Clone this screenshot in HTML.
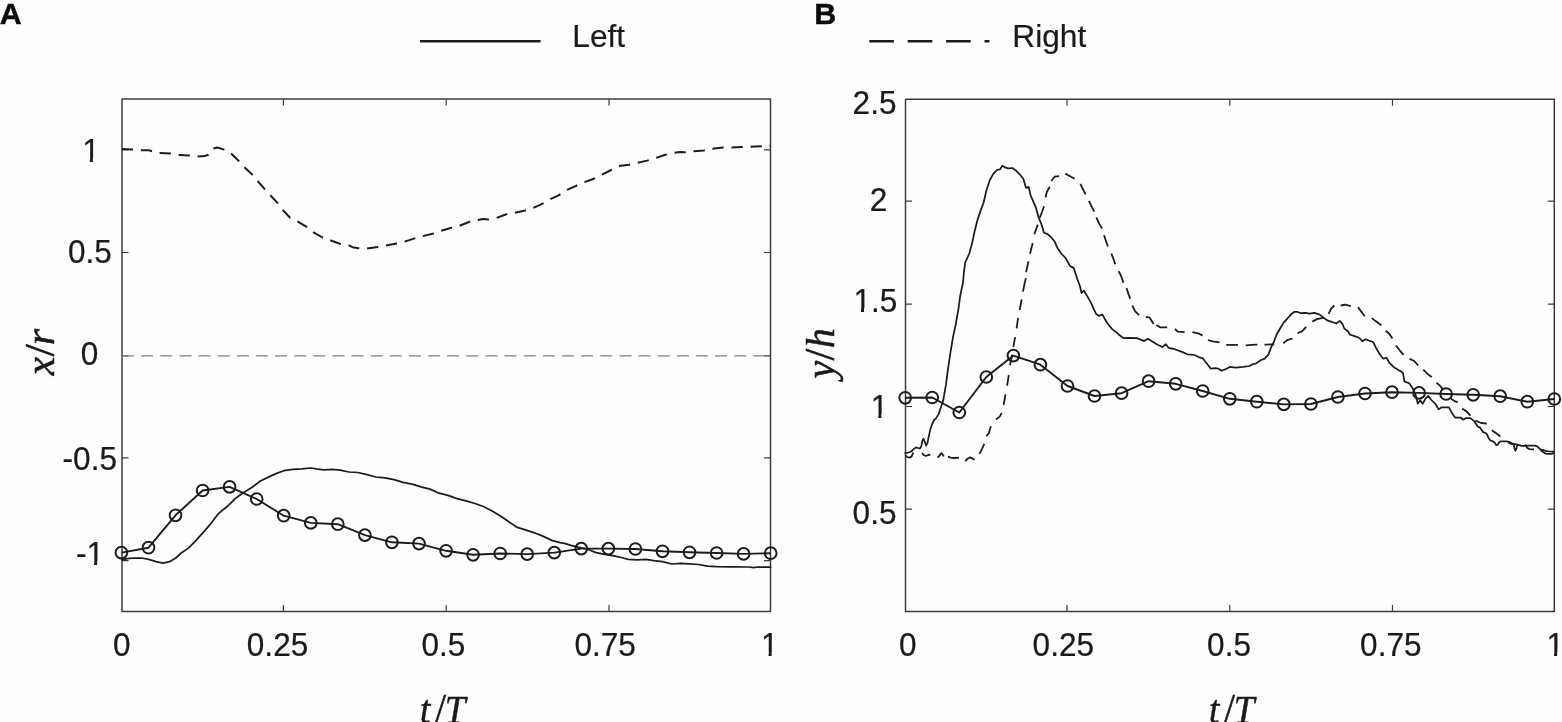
<!DOCTYPE html>
<html lang="en"><head><meta charset="utf-8"><title>Figure: Left / Right trajectories</title>
<style>
html,body{margin:0;padding:0;background:#fefefe;}
body{width:1562px;height:722px;overflow:hidden;}
svg{display:block;}
.tk{font-family:"Liberation Sans",sans-serif;font-size:33.6px;fill:#1a1a1a;stroke:#1a1a1a;stroke-width:0.25px;}
.lg{font-family:"Liberation Sans",sans-serif;font-size:31.7px;fill:#1a1a1a;stroke:#1a1a1a;stroke-width:0.2px;}
.pn{font-family:"Liberation Sans",sans-serif;font-size:30.4px;font-weight:bold;fill:#0a0a0a;stroke:#0a0a0a;stroke-width:0.4px;}
.ax{font-family:"Liberation Serif",serif;font-style:italic;font-size:40px;fill:#1a1a1a;stroke:#1a1a1a;stroke-width:0.5px;}
.ax .sl2{font-style:normal;font-size:42.5px;}
.fr{fill:none;stroke:#3c3c3c;stroke-width:1.5;stroke-linejoin:round;}
.ti{fill:none;stroke:#3c3c3c;stroke-width:1.2;}
.sl{fill:none;stroke:#1c1c1c;stroke-width:1.75;stroke-linejoin:round;stroke-linecap:round;}
.ml{fill:none;stroke:#1c1c1c;stroke-width:1.9;stroke-linejoin:round;}
.mk{fill:none;stroke:#1c1c1c;stroke-width:2.0;}
.ds{fill:none;stroke:#1c1c1c;stroke-width:2.0;stroke-linejoin:round;stroke-dasharray:11.3 7.8;}
.dx{fill:none;stroke:#1c1c1c;stroke-width:1.8;stroke-linejoin:round;}
.zr{fill:none;stroke:#808080;stroke-width:1.3;stroke-dasharray:12 7.13;}
</style></head><body>
<svg width="1562" height="722" viewBox="0 0 1562 722">
<rect x="0" y="0" width="1562" height="722" fill="#fefefe"/>
<text class="pn" x="-0.3" y="24.2">A</text>
<text class="pn" x="814.2" y="24.1">B</text>
<line x1="420" y1="41.2" x2="540.6" y2="41.2" stroke="#1c1c1c" stroke-width="2.6"/>
<text class="lg" x="572.3" y="47.0">Left</text>
<line x1="869.3" y1="41.2" x2="989.5" y2="41.2" stroke="#1c1c1c" stroke-width="2.6" stroke-dasharray="24.6 13.8"/>
<text class="lg" x="1012.3" y="47.0">Right</text>
<rect class="fr" x="122.0" y="99.0" width="648.5" height="512.4"/>
<path class="ti" d="M283.4,611.4 v-6.5 M283.4,99.0 v6.5 M446.2,611.4 v-6.5 M446.2,99.0 v6.5 M609.0,611.4 v-6.5 M609.0,99.0 v6.5 M122.0,149.8 h6.5 M770.5,149.8 h-6.5 M122.0,252.5 h6.5 M770.5,252.5 h-6.5 M122.0,355.8 h6.5 M770.5,355.8 h-6.5 M122.0,457.9 h6.5 M770.5,457.9 h-6.5 M122.0,560.6 h6.5 M770.5,560.6 h-6.5"/>
<line class="zr" x1="122.0" y1="355.8" x2="770.5" y2="355.8"/>
<path class="ds" d="M121.8,148.9 L133.0,149.4 L140.7,150.3 L148.8,150.3 L158.7,153.0 L170.4,153.6 L178.0,155.0 L189.3,155.4 L197.4,156.5 L204.6,156.1 L208.2,154.8 L213.6,148.5 L217.2,147.5 L223.5,149.4 L230.7,153.0 L238.8,161.0 L244.2,166.9 L253.2,175.4 L258.6,182.2 L264.9,189.4 L270.3,195.2 L277.5,202.9 L282.9,210.1 L290.1,217.7 L297.3,221.3 L306.3,226.7 L313.5,232.3 L322.5,237.5 L329.7,240.4 L330.0,240.2 L339.9,243.8 L348.0,244.9 L352.5,247.2 L358.8,248.3 L366.9,248.5 L377.7,247.0 L385.8,245.6 L396.6,243.4 L404.7,241.6 L414.6,238.4 L422.7,236.2 L433.5,233.5 L440.7,230.8 L451.5,227.8 L459.6,225.8 L469.5,221.8 L477.6,220.0 L483.0,219.1 L488.4,219.5 L496.5,217.9 L506.4,214.3 L514.5,212.8 L525.3,210.5 L532.5,208.3 L540.6,204.7 L550.0,199.3 L558.1,195.7 L566.2,190.3 L576.1,185.8 L584.2,182.2 L593.2,179.0 L601.3,175.0 L611.2,170.0 L618.4,166.0 L629.2,164.7 L637.3,162.9 L647.2,160.6 L656.2,157.9 L665.2,154.7 L674.2,152.9 L679.6,152.0 L685.0,152.3 L693.1,151.2 L703.9,150.5 L712.0,148.9 L722.8,147.6 L730.9,147.5 L741.7,147.1 L749.8,146.7 L760.6,146.2 L770.0,145.8"/>
<path class="sl" d="M121.8,559.8 L127.2,558.6 L134.4,558.0 L141.6,558.0 L148.8,559.3 L156.0,561.6 L163.2,563.1 L170.4,561.3 L175.8,558.0 L181.2,553.0 L188.4,548.1 L195.6,540.9 L202.8,532.8 L210.0,524.7 L218.1,513.9 L228.0,505.8 L235.2,498.6 L242.4,493.2 L251.4,487.8 L260.4,481.0 L269.4,476.6 L276.6,473.4 L283.8,470.7 L292.8,469.4 L301.8,468.9 L310.8,468.0 L316.2,468.9 L323.4,469.8 L332.4,469.4 L340.0,470.2 L349.0,472.0 L358.0,472.5 L367.0,474.7 L376.0,477.0 L385.0,477.9 L394.0,479.7 L403.0,482.4 L412.0,484.2 L421.0,486.9 L430.0,489.1 L439.0,493.2 L448.0,495.4 L457.0,498.6 L466.0,500.9 L475.0,503.5 L484.0,506.7 L493.0,511.6 L502.0,517.0 L511.0,523.3 L517.3,527.4 L525.4,529.8 L534.4,532.8 L543.4,536.4 L552.4,540.6 L560.0,542.7 L565.4,543.6 L570.8,545.4 L578.0,547.2 L587.0,549.0 L596.0,552.6 L605.0,554.4 L614.0,555.9 L621.2,557.5 L628.4,559.3 L637.4,559.8 L646.4,559.3 L653.6,560.7 L662.6,561.6 L671.6,564.0 L680.6,563.4 L689.6,563.8 L698.6,564.5 L707.6,566.1 L716.6,566.7 L731.0,566.8 L749.0,567.0 L753.5,567.6 L758.0,567.0 L770.6,567.0"/>
<path class="ml" d="M121.4,552.6 L148.5,547.7 L175.5,515.3 L202.6,490.5 L229.6,486.9 L256.7,499.0 L283.7,515.7 L310.8,522.9 L337.8,524.2 L364.9,535.1 L391.9,542.3 L419.0,543.6 L446.1,550.8 L473.1,554.8 L500.2,553.5 L527.2,554.1 L554.3,552.6 L581.3,548.6 L608.4,548.6 L635.4,549.0 L662.5,551.3 L689.5,552.3 L716.6,553.0 L743.6,553.9 L770.7,553.2"/>
<circle class="mk" cx="121.4" cy="552.6" r="5.85"/>
<circle class="mk" cx="148.5" cy="547.7" r="5.85"/>
<circle class="mk" cx="175.5" cy="515.3" r="5.85"/>
<circle class="mk" cx="202.6" cy="490.5" r="5.85"/>
<circle class="mk" cx="229.6" cy="486.9" r="5.85"/>
<circle class="mk" cx="256.7" cy="499.0" r="5.85"/>
<circle class="mk" cx="283.7" cy="515.7" r="5.85"/>
<circle class="mk" cx="310.8" cy="522.9" r="5.85"/>
<circle class="mk" cx="337.8" cy="524.2" r="5.85"/>
<circle class="mk" cx="364.9" cy="535.1" r="5.85"/>
<circle class="mk" cx="391.9" cy="542.3" r="5.85"/>
<circle class="mk" cx="419.0" cy="543.6" r="5.85"/>
<circle class="mk" cx="446.1" cy="550.8" r="5.85"/>
<circle class="mk" cx="473.1" cy="554.8" r="5.85"/>
<circle class="mk" cx="500.2" cy="553.5" r="5.85"/>
<circle class="mk" cx="527.2" cy="554.1" r="5.85"/>
<circle class="mk" cx="554.3" cy="552.6" r="5.85"/>
<circle class="mk" cx="581.3" cy="548.6" r="5.85"/>
<circle class="mk" cx="608.4" cy="548.6" r="5.85"/>
<circle class="mk" cx="635.4" cy="549.0" r="5.85"/>
<circle class="mk" cx="662.5" cy="551.3" r="5.85"/>
<circle class="mk" cx="689.5" cy="552.3" r="5.85"/>
<circle class="mk" cx="716.6" cy="553.0" r="5.85"/>
<circle class="mk" cx="743.6" cy="553.9" r="5.85"/>
<circle class="mk" cx="770.7" cy="553.2" r="5.85"/>
<text class="tk" transform="translate(82.2,162.0) scale(0.94,1)">1</text>
<path fill="#fefefe" d="M83.40,158.20h6.4v5h-6.4z M92.86,158.20h6.4v5h-6.4z"/>
<text class="tk" transform="translate(68.0,262.8) scale(0.94,1)">0.5</text>
<text class="tk" transform="translate(80.8,365.2) scale(0.94,1)">0</text>
<text class="tk" transform="translate(62.6,469.8) scale(0.94,1)">-0.5</text>
<text class="tk" transform="translate(76.0,565.0) scale(0.94,1)">-1</text>
<path fill="#fefefe" d="M87.72,561.20h6.4v5h-6.4z M97.18,561.20h6.4v5h-6.4z"/>
<text class="tk" transform="translate(113.0,656.1) scale(0.94,1)">0</text>
<text class="tk" transform="translate(246.8,656.1) scale(0.94,1)">0.25</text>
<text class="tk" transform="translate(421.4,656.1) scale(0.94,1)">0.5</text>
<text class="tk" transform="translate(574.4,656.1) scale(0.94,1)">0.75</text>
<text class="tk" transform="translate(761.0,656.1) scale(0.94,1)">1</text>
<path fill="#fefefe" d="M762.20,652.30h6.4v5h-6.4z M771.66,652.30h6.4v5h-6.4z"/>
<text class="ax" transform="translate(419.9,723.2) scale(0.93,1)"><tspan x="0">t</tspan><tspan class="sl2" x="16.2">/</tspan><tspan x="26.8">T</tspan></text>
<text class="ax" transform="translate(53.8,375.5) rotate(-90) scale(1.05,1)"><tspan x="0">x</tspan><tspan class="sl2" x="18.0">/</tspan><tspan x="28.7">r</tspan></text>
<rect class="fr" x="905.5" y="99.2" width="648.8" height="512.2"/>
<path class="ti" d="M1067.0,611.4 v-6.5 M1067.0,99.2 v6.5 M1229.8,611.4 v-6.5 M1229.8,99.2 v6.5 M1392.5,611.4 v-6.5 M1392.5,99.2 v6.5 M905.5,201.1 h6.5 M1554.3,201.1 h-6.5 M905.5,304.1 h6.5 M1554.3,304.1 h-6.5 M905.5,406.5 h6.5 M1554.3,406.5 h-6.5 M905.5,509.2 h6.5 M1554.3,509.2 h-6.5"/>
<path class="dx" d="M905.3,455.0 L907.1,457.0 L909.2,457.7 L911.6,456.4 L913.3,452.5 M922.0,453.2 L923.7,455.0 L925.8,456.0 L928.2,455.0 L930.3,454.6 M937.6,457.7 L939.6,455.3 L941.4,453.2 L942.7,454.6 L943.8,456.4 M947.9,456.7 L950.7,457.7 L953.5,458.0 L959.0,457.7 M965.3,461.2 L967.3,458.8 L970.1,457.4 L972.2,458.4 L974.6,459.8 M979.4,453.9 L981.9,449.1 L984.3,443.9 M986.4,436.3 L988.8,433.2 L990.9,426.2 M995.9,419.5 L999.7,416.6 L1001.7,412.8 M1003.6,405.0 L1005.5,394.3 M1007.1,385.6 L1008.8,375.0 M1010.0,365.3 L1011.4,358.5 L1012.3,354.6 M1013.3,346.9 L1015.2,337.2 M1016.6,328.4 L1018.1,317.8 M1019.7,310.0 L1021.6,299.4 M1023.0,291.6 L1024.5,283.9 L1025.9,278.1 M1026.1,272.1 L1028.4,261.4 M1030.0,253.7 L1032.7,243.0 M1034.3,234.3 L1037.8,224.6 M1039.7,217.8 L1042.0,212.0 L1044.0,206.2 M1045.5,197.5 L1046.9,191.7 L1049.8,186.8 M1051.3,181.0 L1054.6,176.7 L1059.1,176.2 M1065.3,173.6 L1070.1,176.2 L1074.6,178.7 M1080.4,183.9 L1082.7,188.8 L1085.6,194.2 M1088.9,200.8 L1092.4,208.1 L1094.3,211.6 M1096.3,217.4 L1099.2,223.6 L1102.1,228.5 M1104.0,235.3 L1106.0,241.1 L1107.9,246.5 M1111.4,253.7 L1113.7,259.5 L1115.3,264.3 M1118.6,271.1 L1121.1,276.0 L1123.4,282.8 M1126.5,288.1 L1128.4,293.9 L1130.3,298.8 M1132.3,305.5 L1135.2,311.4 L1139.1,315.2 M1145.9,316.8 L1149.7,317.6 L1151.7,321.0 L1153.6,324.0 M1156.5,324.9 L1160.4,327.4 L1167.2,327.4 M1174.9,328.8 L1177.8,331.7 L1184.6,332.1 M1192.4,332.1 L1198.2,333.3 L1202.6,335.6 M1207.9,340.0 L1212.7,341.4 L1219.5,342.4 M1226.3,344.9 L1237.9,344.9 M1245.7,345.3 L1251.5,344.9 L1257.3,344.7 M1264.5,344.7 L1274.2,344.3 M1283.3,343.3 L1287.8,339.8 L1292.6,338.5 M1297.5,333.3 L1302.3,331.1 L1306.2,326.9 M1312.4,321.6 L1316.9,319.1 L1323.3,317.8 M1328.5,313.9 L1331.4,308.4 L1334.3,305.5 M1340.7,305.5 L1345.0,304.6 L1350.8,306.1 M1358.1,306.9 L1361.4,311.9 L1364.7,316.2 M1371.7,318.1 L1376.9,322.0 L1381.4,325.3 M1385.7,330.7 L1389.5,334.0 L1392.4,338.5 M1395.8,345.5 L1399.7,350.3 L1403.6,354.8 M1409.4,358.7 L1414.2,361.0 L1418.1,365.3 M1423.3,369.7 L1427.8,374.2 L1431.7,376.9 M1436.5,382.7 L1440.4,386.2 L1443.3,390.1 M1451.0,398.8 L1454.9,401.3 L1457.8,402.1 M1462.1,408.5 L1466.6,411.4 L1470.4,415.7 M1475.3,420.7 L1481.1,423.0 L1486.9,423.6 M1491.8,430.2 L1496.3,433.2 L1500.4,436.6 M1508.4,442.9 L1511.2,443.9 L1517.4,444.6 M1525.4,444.6 L1527.1,447.7 L1529.2,449.1 L1534.0,449.4 M1540.9,450.5 L1543.7,452.5 L1546.5,453.9 L1552.0,453.9 L1554.1,452.5"/>
<path class="sl" d="M905.3,453.1 L908.5,452.5 L911.2,451.5 L913.7,449.1 L916.1,447.4 L917.8,448.0 L919.9,448.5 L921.3,446.3 L922.3,440.8 L923.4,438.6 L924.7,441.5 L926.1,445.5 L927.5,442.9 L928.9,435.9 L930.6,428.3 L932.4,423.5 L934.1,420.0 L936.0,418.4 L938.7,413.9 L941.4,405.8 L943.2,400.4 L945.9,385.2 L947.7,370.8 L950.4,352.8 L953.1,336.6 L955.8,324.0 L958.5,308.7 L960.3,295.2 L963.0,282.6 L963.9,272.4 L965.2,262.5 L969.3,253.5 L972.0,243.6 L974.7,231.0 L977.4,220.2 L980.1,212.1 L983.7,202.2 L986.4,190.5 L990.0,179.7 L993.6,173.4 L997.2,169.8 L999.9,169.4 L1002.3,165.8 L1004.4,167.1 L1008.0,168.4 L1012.5,168.0 L1016.1,170.7 L1019.7,174.3 L1023.3,178.8 L1026.0,187.8 L1028.7,186.9 L1030.5,195.0 L1033.2,201.3 L1035.9,207.6 L1038.6,217.5 L1041.3,223.8 L1044.0,232.8 L1047.6,234.1 L1051.2,237.3 L1054.8,241.8 L1057.5,248.1 L1061.1,253.5 L1065.6,258.0 L1070.1,266.1 L1073.7,267.9 L1077.3,279.0 L1080.0,286.2 L1081.5,293.0 L1084.0,290.7 L1087.2,296.1 L1090.8,302.4 L1093.5,308.7 L1096.2,314.1 L1098.9,315.9 L1102.5,314.6 L1104.3,318.2 L1107.9,324.0 L1112.4,329.4 L1116.9,332.7 L1119.0,334.8 L1123.5,338.1 L1129.8,337.9 L1137.0,338.1 L1144.2,341.1 L1147.8,338.8 L1153.2,342.0 L1157.7,344.7 L1162.2,347.1 L1165.8,344.2 L1168.5,347.8 L1174.8,349.2 L1182.0,351.9 L1187.4,354.3 L1194.6,355.0 L1200.0,357.7 L1202.7,358.2 L1207.2,364.0 L1210.8,368.7 L1215.3,368.1 L1218.0,368.5 L1221.6,370.8 L1225.2,369.4 L1229.7,366.9 L1236.0,367.6 L1243.2,366.9 L1249.5,366.0 L1253.1,364.0 L1255.8,363.6 L1261.2,360.0 L1264.8,358.6 L1268.4,354.6 L1271.1,347.4 L1273.8,342.0 L1276.5,334.8 L1280.1,328.5 L1283.7,322.6 L1288.2,317.7 L1291.8,313.7 L1294.5,311.8 L1297.2,311.8 L1300.8,313.2 L1305.3,312.8 L1309.8,313.7 L1314.3,312.8 L1319.7,314.6 L1323.6,317.7 L1327.2,320.4 L1331.7,321.8 L1336.2,323.5 L1339.8,320.9 L1342.5,324.0 L1344.3,328.5 L1347.9,331.2 L1349.7,334.5 L1356.0,336.6 L1358.7,337.5 L1362.3,341.1 L1365.9,339.3 L1369.5,340.8 L1373.1,342.0 L1375.8,347.4 L1379.4,353.7 L1383.0,358.6 L1386.6,357.9 L1389.3,362.7 L1393.8,367.2 L1399.2,370.5 L1402.8,372.6 L1404.6,381.6 L1409.3,383.3 L1412.9,388.7 L1415.6,395.0 L1417.8,403.6 L1420.1,400.4 L1422.8,403.6 L1425.5,398.6 L1428.2,395.9 L1430.9,399.5 L1435.4,404.0 L1438.7,409.4 L1441.7,407.3 L1448.9,407.3 L1452.5,413.9 L1455.2,417.5 L1460.6,417.5 L1463.3,419.7 L1466.0,418.1 L1470.5,418.1 L1474.1,421.1 L1477.7,426.5 L1480.0,427.6 L1481.4,429.7 L1483.1,432.1 L1486.2,433.2 L1487.6,435.6 L1488.7,438.4 L1490.4,440.4 L1493.2,441.5 L1494.9,442.9 L1496.3,445.3 L1497.7,444.8 L1499.0,442.5 L1500.8,441.3 L1506.3,441.3 L1509.1,441.8 L1511.9,443.2 L1513.6,443.9 L1514.3,447.7 L1515.3,450.8 L1516.4,448.4 L1517.4,444.6 L1519.5,445.1 L1521.6,445.8 L1524.3,445.8 L1526.1,445.5 L1528.5,445.5 L1534.7,445.6 L1536.8,446.2 L1538.9,448.0 L1540.9,449.8 L1543.0,449.9 L1545.1,450.8 L1549.3,451.5 L1554.1,451.7"/>
<path class="ml" d="M905.2,397.8 L932.2,397.5 L959.3,412.5 L986.3,377.0 L1013.4,355.6 L1040.4,364.7 L1067.5,386.0 L1094.5,396.0 L1121.6,393.2 L1148.6,381.2 L1175.7,383.8 L1202.7,391.0 L1229.8,398.8 L1256.8,401.7 L1283.8,404.4 L1310.9,404.0 L1337.9,397.0 L1365.0,393.5 L1392.0,392.2 L1419.1,392.9 L1446.1,394.0 L1473.2,394.8 L1500.2,396.2 L1527.3,401.7 L1554.3,399.0"/>
<circle class="mk" cx="905.2" cy="397.8" r="5.85"/>
<circle class="mk" cx="932.2" cy="397.5" r="5.85"/>
<circle class="mk" cx="959.3" cy="412.5" r="5.85"/>
<circle class="mk" cx="986.3" cy="377.0" r="5.85"/>
<circle class="mk" cx="1013.4" cy="355.6" r="5.85"/>
<circle class="mk" cx="1040.4" cy="364.7" r="5.85"/>
<circle class="mk" cx="1067.5" cy="386.0" r="5.85"/>
<circle class="mk" cx="1094.5" cy="396.0" r="5.85"/>
<circle class="mk" cx="1121.6" cy="393.2" r="5.85"/>
<circle class="mk" cx="1148.6" cy="381.2" r="5.85"/>
<circle class="mk" cx="1175.7" cy="383.8" r="5.85"/>
<circle class="mk" cx="1202.7" cy="391.0" r="5.85"/>
<circle class="mk" cx="1229.8" cy="398.8" r="5.85"/>
<circle class="mk" cx="1256.8" cy="401.7" r="5.85"/>
<circle class="mk" cx="1283.8" cy="404.4" r="5.85"/>
<circle class="mk" cx="1310.9" cy="404.0" r="5.85"/>
<circle class="mk" cx="1337.9" cy="397.0" r="5.85"/>
<circle class="mk" cx="1365.0" cy="393.5" r="5.85"/>
<circle class="mk" cx="1392.0" cy="392.2" r="5.85"/>
<circle class="mk" cx="1419.1" cy="392.9" r="5.85"/>
<circle class="mk" cx="1446.1" cy="394.0" r="5.85"/>
<circle class="mk" cx="1473.2" cy="394.8" r="5.85"/>
<circle class="mk" cx="1500.2" cy="396.2" r="5.85"/>
<circle class="mk" cx="1527.3" cy="401.7" r="5.85"/>
<circle class="mk" cx="1554.3" cy="399.0" r="5.85"/>
<text class="tk" transform="translate(852.6,114.2) scale(0.94,1)">2.5</text>
<text class="tk" transform="translate(869.7,211.0) scale(0.94,1)">2</text>
<text class="tk" transform="translate(853.4,312.0) scale(0.94,1)">1.5</text>
<path fill="#fefefe" d="M854.60,308.20h6.4v5h-6.4z M864.06,308.20h6.4v5h-6.4z"/>
<text class="tk" transform="translate(870.7,418.0) scale(0.94,1)">1</text>
<path fill="#fefefe" d="M871.90,414.20h6.4v5h-6.4z M881.36,414.20h6.4v5h-6.4z"/>
<text class="tk" transform="translate(852.6,524.0) scale(0.94,1)">0.5</text>
<text class="tk" transform="translate(899.0,656.1) scale(0.94,1)">0</text>
<text class="tk" transform="translate(1032.6,656.1) scale(0.94,1)">0.25</text>
<text class="tk" transform="translate(1207.1,656.1) scale(0.94,1)">0.5</text>
<text class="tk" transform="translate(1360.1,656.1) scale(0.94,1)">0.75</text>
<text class="tk" transform="translate(1546.5,656.1) scale(0.94,1)">1</text>
<path fill="#fefefe" d="M1547.70,652.30h6.4v5h-6.4z M1557.16,652.30h6.4v5h-6.4z"/>
<text class="ax" transform="translate(1208.9,723.2) scale(0.93,1)"><tspan x="0">t</tspan><tspan class="sl2" x="16.2">/</tspan><tspan x="26.8">T</tspan></text>
<text class="ax" transform="translate(833.8,378.4) rotate(-90)"><tspan x="0">y</tspan><tspan class="sl2" x="18.0">/</tspan><tspan x="30.2">h</tspan></text>
</svg></body></html>
